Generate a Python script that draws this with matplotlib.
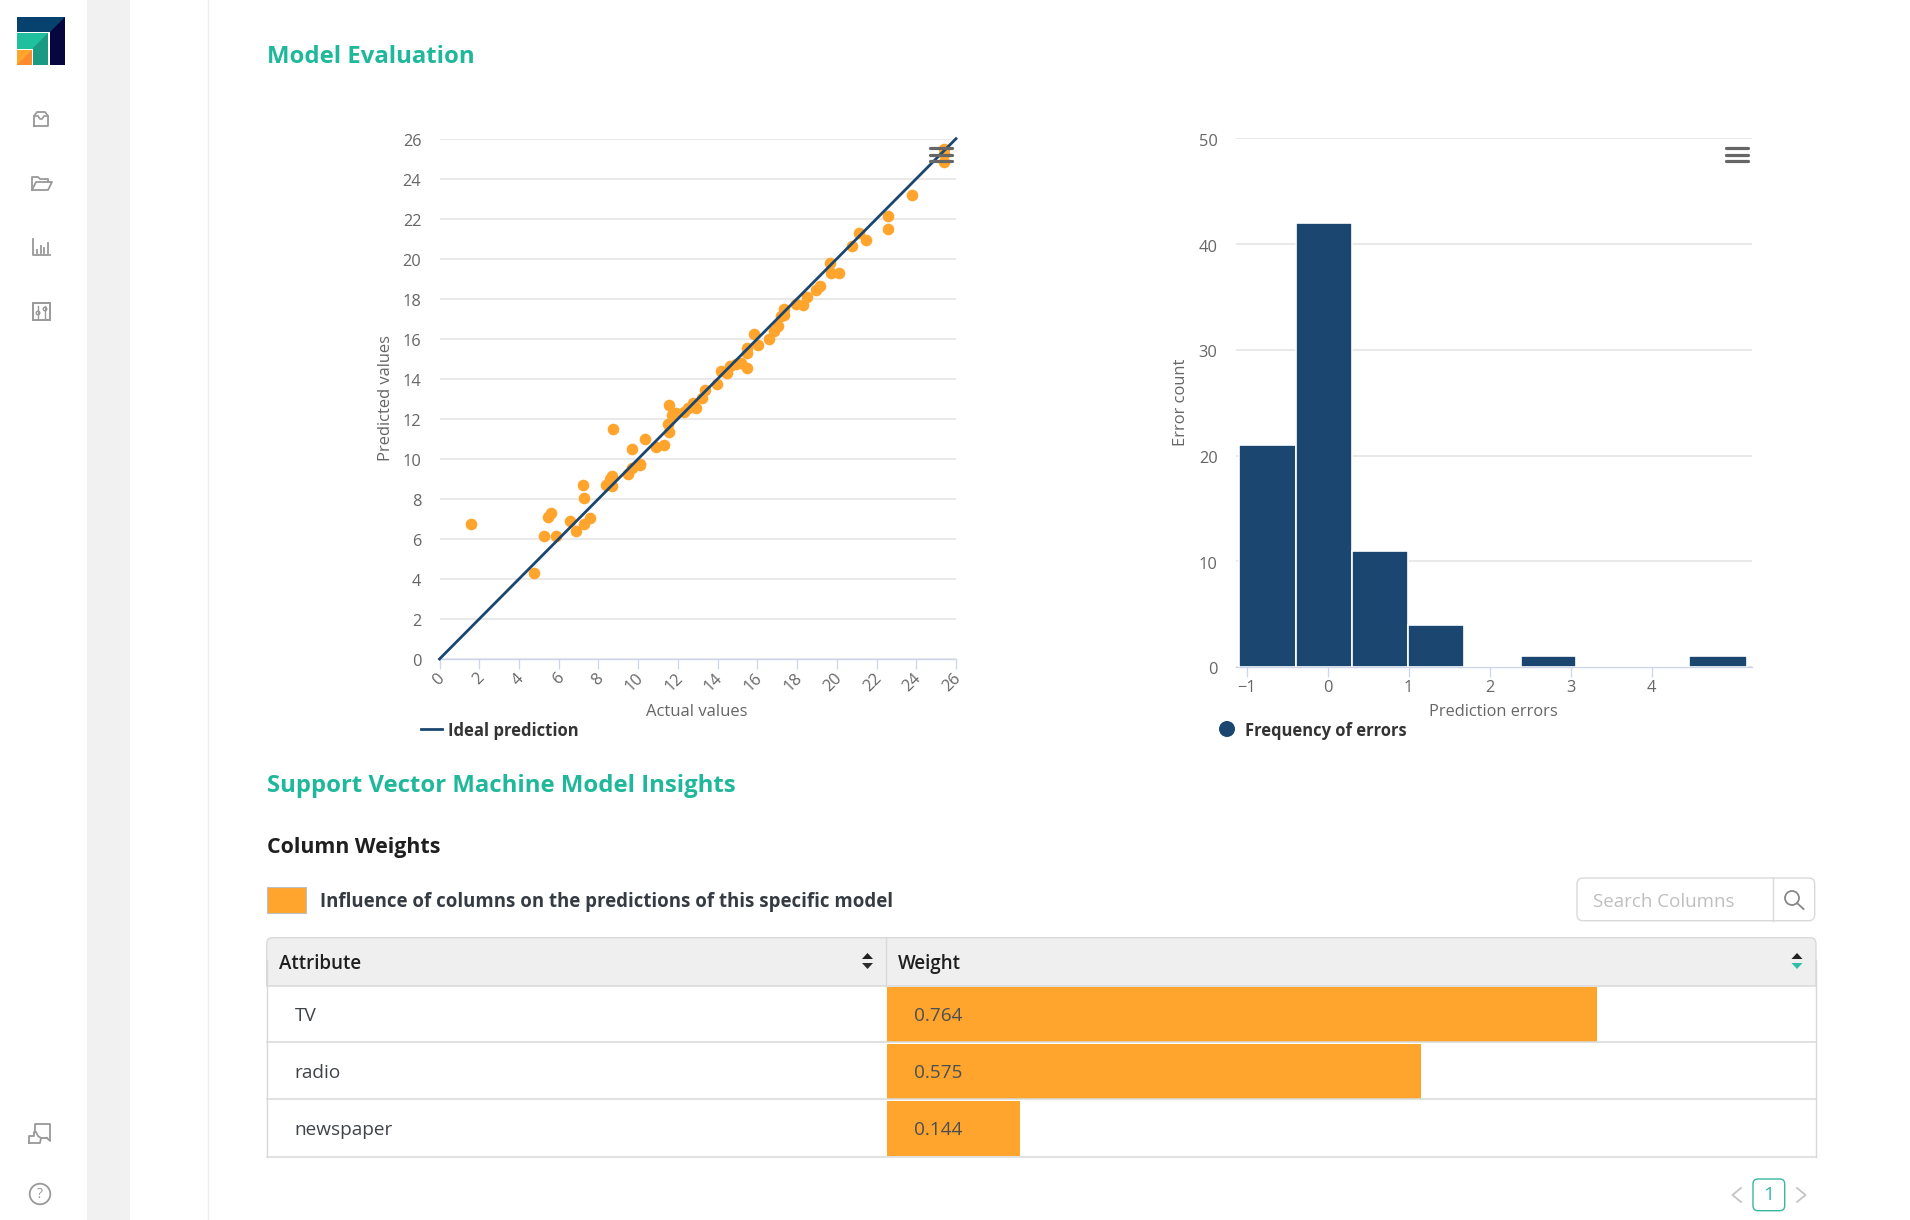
# Model evaluation dashboard screenshot
import numpy as np
import matplotlib
matplotlib.use('Agg')
import matplotlib.pyplot as plt
from matplotlib.patches import Rectangle, FancyBboxPatch, Polygon, Circle
from matplotlib.transforms import ScaledTranslation

plt.rcParams['font.family'] = ['Open Sans', 'DejaVu Sans']

W, H = 1910, 1220

#Scatter: actual vs predicted
actual = [1.57, 4.77, 5.25, 5.45, 5.61, 5.85, 6.58, 6.86, 7.26, 7.60, 7.26, 7.20, 8.39, 8.59,
          8.69, 8.69, 8.75, 9.49, 9.69, 9.69, 10.10, 10.10, 10.34, 10.88, 11.30, 11.50, 11.56,
          11.56, 11.70, 11.90, 12.33, 12.53, 12.77, 12.91, 13.20, 13.37, 13.98, 14.16, 14.46,
          14.62, 14.92, 15.20, 15.46, 15.48, 15.46, 15.85, 16.01, 16.59, 16.85, 17.05, 17.20,
          17.35, 17.33, 17.96, 18.28, 18.48, 18.96, 19.14, 19.65, 19.73, 20.09, 20.75, 21.13,
          21.48, 22.56, 22.56, 23.77, 25.38, 25.38, 25.38]
predicted = [6.77, 4.30, 6.16, 7.10, 7.30, 6.16, 6.89, 6.38, 6.77, 7.03, 8.03, 8.71, 8.71, 8.97,
             9.16, 8.65, 11.50, 9.22, 9.56, 10.50, 9.75, 9.67, 10.97, 10.58, 10.71, 11.73, 11.36,
             12.70, 12.21, 12.28, 12.32, 12.54, 12.79, 12.52, 13.05, 13.44, 13.72, 14.38, 14.29,
             14.66, 14.74, 14.78, 14.56, 15.29, 15.56, 16.23, 15.70, 15.97, 16.39, 16.64, 17.13,
             17.19, 17.48, 17.76, 17.70, 18.11, 18.43, 18.64, 19.80, 19.31, 19.31, 20.64, 21.29,
             20.96, 21.49, 22.14, 23.17, 25.49, 25.24, 24.84]
ideal = [0, 26]

#Histogram of errors
bin_edges = [-1.09, -0.397, 0.296, 0.99, 1.683, 2.39, 3.07, 3.765, 4.46, 5.175]
error_counts = [21, 42, 11, 4, 0, 1, 0, 0, 1]

#Column weights table
attributes = ['TV', 'radio', 'newspaper']
weights = [0.764, 0.575, 0.144]

GRID = '#e9e9e9'
AXIS = '#ccd6eb'
TXT = '#666666'
ORANGE = '#ffa42c'
NAVY = '#1b4670'
TEAL = '#1fb89a'


def add_axes_px(fig, x0, x1, y_top, y_bot, **kw):
    '''Axes placed with screenshot pixel coordinates'''
    return fig.add_axes([x0 / W, 1 - y_bot / H, (x1 - x0) / W, (y_bot - y_top) / H], **kw)


def style_chart(ax):
    for s in ['top', 'right', 'left']:
        ax.spines[s].set_visible(False)
    ax.spines['bottom'].set_color(AXIS)
    ax.spines['bottom'].set_linewidth(1.0)
    ax.grid(axis='y', color=GRID, lw=1.4, zorder=0)
    ax.set_axisbelow(True)
    ax.tick_params(axis='y', length=0, pad=13, labelsize=11.8, labelcolor=TXT)
    ax.tick_params(axis='x', length=7.2, width=0.9, color=AXIS, labelsize=11.8, labelcolor=TXT)


def nudge(labels, dx, dy):
    '''Shift tick labels by a few pixels'''
    for lab in labels:
        lab.set_transform(lab.get_transform() + ScaledTranslation(dx / 100, dy / 100, fig.dpi_scale_trans))


fig = plt.figure(figsize=(W / 100, H / 100), dpi=100, facecolor='white')

#Scatter chart
ax1 = add_axes_px(fig, 439.5, 956, 138.7, 659)
style_chart(ax1)
ax1.set_xlim(0, 26)
ax1.set_ylim(0, 26)
ax1.set_xticks(np.arange(0, 27, 2))
ax1.set_yticks(np.arange(0, 27, 2))
ax1.scatter(actual, predicted, s=70, color=ORANGE, linewidths=0, zorder=3, clip_on=False)
ax1.plot(ideal, ideal, color=NAVY, lw=2.0, zorder=4, clip_on=False)
for lab in ax1.get_xticklabels():
    lab.set_rotation(45)
    lab.set_ha('right')
    lab.set_va('top')
    lab.set_rotation_mode('anchor')
ax1.tick_params(axis='x', pad=1)
nudge(ax1.get_xticklabels(), -3, 0)
nudge(ax1.get_yticklabels(), 0, -1.5)

#Histogram
ax2 = add_axes_px(fig, 1235.7, 1752, 138.4, 667)
style_chart(ax2)
ax2.set_xlim(-1.136, 5.24)
ax2.set_ylim(0, 50)
ax2.set_xticks([-1, 0, 1, 2, 3, 4])
ax2.set_yticks([0, 10, 20, 30, 40, 50])
ax2.bar(bin_edges[:-1], error_counts, width=np.diff(bin_edges), align='edge', color=NAVY,
        edgecolor='white', linewidth=1.2, zorder=3)
ax2.tick_params(axis='x', pad=2)
nudge(ax2.get_yticklabels(), 0, -1.5)

#Weight bars inside the table column
ax3 = add_axes_px(fig, 886.5, 1816, 985.7, 1157)
ax3.set_xlim(0, 1)
ax3.set_ylim(2.5, -0.5)
ax3.axis('off')
ax3.barh(range(len(weights)), weights, height=0.97, color=ORANGE, linewidth=0)
for i, w in enumerate(weights):
    ax3.text(0.0295, i + 0.03, '%.3f' % w, va='center', ha='left', fontsize=13.7, color='#4a4f55')

#Page furniture, in pixel coordinates
ui = fig.add_axes([0, 0, 1, 1], zorder=5)
ui.set_xlim(0, W)
ui.set_ylim(H, 0)
ui.axis('off')
ui.patch.set_visible(False)

ui.add_patch(Rectangle((87, 0), 43, H, color='#f1f1f1', lw=0))
ui.plot([207.5, 207.5], [0, H], color='#efefef', lw=1)

#logo
ui.add_patch(Rectangle((17, 17), 48, 15, color='#07426f', lw=0))
ui.add_patch(Polygon([(50, 32), (65, 17), (65, 65), (50, 65)], color='#08063f', lw=0))
ui.add_patch(Rectangle((17, 33), 31, 32, color='#1fbf9f', lw=0))
ui.add_patch(Polygon([(48, 33), (48, 65), (33, 65), (33, 48)], color='#1a9a83', lw=0))
ui.add_patch(Rectangle((17, 49), 16, 16, color='white', lw=0))
ui.add_patch(Rectangle((17, 50), 15, 15, color='#ffa52b', lw=0))
ui.add_patch(Polygon([(32, 50), (32, 65), (17, 65)], color='#ff8a2b', lw=0))

#sidebar icons
ICON = '#999999'
ui.plot([34, 34, 37, 45, 48, 48, 34], [126, 116, 112, 112, 116, 126, 126], color=ICON, lw=1.3)
ui.plot([34, 38, 40, 42, 44, 48], [116, 116, 119, 119, 116, 116], color=ICON, lw=1.2)
ui.plot([32, 32, 38, 40, 48, 48], [190, 177, 177, 179, 179, 182], color=ICON, lw=1.3)
ui.plot([32, 36, 52, 48, 32], [190, 182, 182, 190, 190], color=ICON, lw=1.3)
ui.plot([33, 33, 50], [239, 255, 255], color=ICON, lw=1.3)
for bx, by in zip([37, 41, 44, 48], [250, 246, 248, 243]):
    ui.plot([bx, bx], [by, 253], color=ICON, lw=1.3)
ui.add_patch(Rectangle((33, 303), 17, 17, fill=False, edgecolor=ICON, lw=1.4))
ui.plot([38, 38], [306, 318], color=ICON, lw=1)
ui.plot([45, 45], [306, 318], color=ICON, lw=1)
ui.add_patch(Circle((38, 313), 1.8, facecolor='white', edgecolor=ICON, lw=1))
ui.add_patch(Circle((45, 309), 1.8, facecolor='white', edgecolor=ICON, lw=1))
ui.plot([35, 35, 50, 50, 47], [1132, 1124, 1124, 1141, 1138], color=ICON, lw=1.3)
ui.plot([47, 41], [1138, 1138], color=ICON, lw=1.3)
ui.plot([29, 29, 34, 34, 36, 38, 41, 40, 29], [1143, 1136, 1136, 1132, 1132, 1136, 1138, 1143, 1143],
        color=ICON, lw=1.3, solid_capstyle='round')
ui.add_patch(Circle((40, 1194), 10.3, fill=False, edgecolor=ICON, lw=1.3))
ui.text(40, 1194, '?', ha='center', va='center', fontsize=10, color=ICON)

#hamburger menus
for x0, x1 in [(930, 951.7), (1725.5, 1748)]:
    for yy in [147.8, 154.5, 161]:
        ui.plot([x0, x1], [yy, yy], color='#666666', lw=2.3, solid_capstyle='round')

#headings
ui.text(266.7, 57, 'Model Evaluation', color=TEAL, fontsize=17.2, fontweight='bold', va='center')
ui.text(266.7, 786, 'Support Vector Machine Model Insights', color=TEAL, fontsize=17.2,
        fontweight='bold', va='center')
ui.text(266.7, 848, 'Column Weights', color='#1f1f1f', fontsize=15.4, fontweight='bold', va='center')

#chart captions
ui.text(697, 712.5, 'Actual values', color=TXT, fontsize=12, ha='center', va='center')
ui.text(385.5, 398, 'Predicted values', color=TXT, fontsize=11.9, rotation=90, ha='center', va='center')
ui.text(1493, 712.5, 'Prediction errors', color=TXT, fontsize=11.8, ha='center', va='center')
ui.text(1180.5, 402, 'Error count', color=TXT, fontsize=11.9, rotation=90, ha='center', va='center')
ui.plot([421, 442], [729, 729], color=NAVY, lw=2)
ui.text(448, 730.5, 'Ideal prediction', color='#333333', fontsize=12, fontweight='bold', va='center')
ui.add_patch(Circle((1227, 729), 8, color=NAVY, lw=0))
ui.text(1244.5, 730.5, 'Frequency of errors', color='#333333', fontsize=11.9, fontweight='bold', va='center')

#table legend
ui.add_patch(Rectangle((266.7, 886.5), 39, 26, facecolor=ORANGE, edgecolor='#b9c0c6', lw=0.8))
ui.text(320, 902.5, 'Influence of columns on the predictions of this specific model', color='#343b43',
        fontsize=13.4, fontweight='bold', va='center')

#search box
ui.add_patch(FancyBboxPatch((1577, 878), 237.7, 42.7, boxstyle='round,pad=0,rounding_size=6',
                            facecolor='white', edgecolor='#d9d9d9', lw=1))
ui.plot([1773, 1773], [878, 920.7], color='#d9d9d9', lw=1)
ui.text(1593, 902, 'Search Columns', color='#bfbfbf', fontsize=13.5, va='center')
ui.add_patch(Circle((1792, 898), 7, fill=False, edgecolor='#888888', lw=1.3))
ui.plot([1797, 1803.5], [903, 909], color='#888888', lw=1.3)

#table frame
T_L, T_R, T_M = 266.7, 1816, 886
rows = [985.7, 1042.3, 1099.3, 1157]
head = FancyBboxPatch((T_L, 937.7), T_R - T_L, 60, boxstyle='round,pad=0,rounding_size=6',
                      facecolor='#efefef', edgecolor='#d9d9d9', lw=1, zorder=0.5)
ui.add_patch(head)
head.set_clip_path(Rectangle((T_L - 2, 930), T_R - T_L + 4, rows[0] - 930, transform=ui.transData))
for yy in rows:
    ui.plot([T_L, T_R], [yy, yy], color='#d9d9d9', lw=1.1, zorder=2)
ui.plot([T_L, T_L], [960, rows[-1]], color='#d9d9d9', lw=1, zorder=2)
ui.plot([T_R, T_R], [960, rows[-1]], color='#d9d9d9', lw=1, zorder=2)
ui.plot([T_M, T_M], [937.7, 985.7], color='#d9d9d9', lw=1, zorder=2)
ui.text(278.5, 964, 'Attribute', color='#1f1f1f', fontsize=13.5, fontweight='semibold', va='center')
ui.text(897.5, 964, 'Weight', color='#1f1f1f', fontsize=13.5, fontweight='semibold', va='center')
for i, name in enumerate(attributes):
    ui.text(294.5, (rows[i] + rows[i + 1]) / 2 + 2, name, color='#3e444a', fontsize=13.7, va='center')

#sort arrows
for cx, down in [(867.5, '#2b2b2b'), (1797, '#2fbfa5')]:
    ui.add_patch(Polygon([(cx - 5.5, 959), (cx + 5.5, 959), (cx, 953)], color='#222222', lw=0))
    ui.add_patch(Polygon([(cx - 5.5, 963), (cx + 5.5, 963), (cx, 969)], color=down, lw=0))

#pagination
ui.add_patch(FancyBboxPatch((1753, 1179), 31.7, 31.7, boxstyle='round,pad=0,rounding_size=5',
                            facecolor='white', edgecolor='#35b8a0', lw=1))
ui.text(1769, 1195.5, '1', color='#35b8a0', fontsize=14, ha='center', va='center')
ui.plot([1741, 1732.5, 1741], [1188, 1195, 1202], color='#c4c4c4', lw=1.3)
ui.plot([1797, 1805.5, 1797], [1188, 1195, 1202], color='#c4c4c4', lw=1.3)

fig.savefig('out.png', dpi=100, facecolor='white')
